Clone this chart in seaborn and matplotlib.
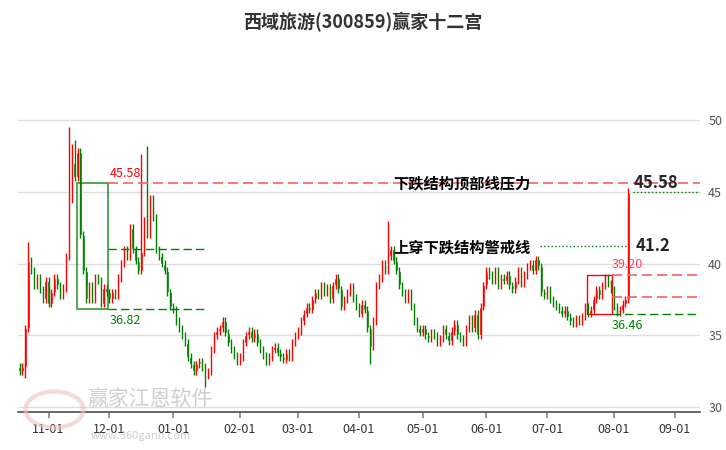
import pandas as pd
import numpy as np
import seaborn as sns
import matplotlib.pyplot as plt
from matplotlib.patches import Rectangle

sns.set_theme(style="white")
plt.rcParams['font.family'] = ['Noto Sans CJK SC', 'DejaVu Sans']

# 收盘价
closes = [32.5, 32.8, 35.5, 40.2, 39.5,
          38.5, 39, 38.2, 37.5, 38.8, 37.2, 38, 39, 38.5, 37.8, 38.3,
          40.5, 44.5, 47, 46, 47.8,
          42, 39.5, 37.5, 38.5, 37.5, 39, 38.8, 37.2,
          38.3, 38, 37.5, 38, 37.8,
          39, 40, 41, 40.5, 42.5, 41, 40.2,
          39.5, 40.8, 43, 42, 44.5, 43.2, 41, 40.5,
          40, 39.5, 38, 37, 36.8, 36, 35.5,
          35, 34.5, 33.5, 33, 32.5, 33, 33.2,
          32.8, 32.2, 32.5, 34, 35, 35.3,
          35.5, 36, 35.2, 34.5, 34, 33.6, 33.2,
          33.5, 34.5, 35, 35.3, 34.8, 35.2, 34.5,
          34, 33.6, 33.2, 33.5, 34, 34.2, 33.8, 33.5,
          33.3, 33.8, 33.5, 34.5, 35, 35.3, 36,
          36.5, 37, 36.8, 37.5, 38, 37.8, 38.5, 38,
          38.3, 37.5, 38.5, 39, 38.2, 37, 37.5,
          38, 38.4, 37.6, 37, 36.5, 37.2, 36.8,
          35.5, 34.2, 36, 38.5, 39, 40, 39.5,
          40.5, 41, 40.2, 39.5, 38.5, 38,
          37.5, 38, 37, 36, 35.5, 35.2, 35.5, 35,
          34.8, 35.2, 35, 34.5, 34.8, 35.5, 35, 34.6,
          35.3, 35.8, 35, 34.8, 34.5, 35.5, 36.2,
          35.5, 36.5, 35, 37, 38.5, 39.5, 39.2,
          38.8, 39.5, 38.5, 39, 38.8, 39.2, 38.5, 38.2,
          38.8, 39.5, 38.6, 39.2, 39.8, 40, 39.5, 40.3,
          39.8, 38, 37.8, 38.2, 37.5, 37.2,
          37, 36.8, 36.5, 36.8, 36.3, 36, 35.8, 36.2,
          36, 36.3, 37, 36.5, 36.8, 37.5, 38.2,
          37.8, 38.5, 39, 38.6, 38.2,
          37, 36.6, 36.8, 37.2, 37.5,
          45.0]
first_open = 32.8
# 明显的上下影线
spike_high = {17: 49.5, 19: 48.6, 18: 48.3, 44: 48.2, 42: 47.6, 127: 43.0, 3: 41.5, 211: 45.1}
spike_low = {121: 33.0, 64: 31.4, 2: 32.0}

top_level = 45.58
warn_level = 41.2
box1_low, box1_high = 36.82, 45.58
box2_low, box2_high = 36.46, 39.20
mid_level2 = 37.7
month_labels = ['11-01', '12-01', '01-01', '02-01', '03-01', '04-01',
                '05-01', '06-01', '07-01', '08-01', '09-01']

n = len(closes)
opens = [first_open] + closes[:-1]
dates = pd.bdate_range('2024-10-18', periods=n + 30)
df = pd.DataFrame({'open': opens, 'close': closes})
df['high'] = df[['open', 'close']].max(axis=1) + 0.25
df['low'] = df[['open', 'close']].min(axis=1) - 0.25
for k, v in spike_high.items():
    if k < n:
        df.loc[k, 'high'] = v
for k, v in spike_low.items():
    if k < n:
        df.loc[k, 'low'] = v
df['up'] = df['close'] >= df['open']
df['idx'] = np.arange(n)

fig = plt.figure(figsize=(7.26, 4.5), dpi=100)
ax = fig.add_axes([0.025, 0.084, 0.939, 0.694])
red, green = '#ff0000', '#008000'
colors = np.where(df['up'], red, green)
ax.vlines(df['idx'], df['low'], df['high'], colors=colors, lw=1)
ax.bar(df['idx'], (df['close'] - df['open']).abs().clip(lower=0.1),
       bottom=df[['open', 'close']].min(axis=1), width=0.85, color=colors)

def px(x):
    return (x - 18) / 2.9 - 0.5

# 左侧绿色框
ax.add_patch(Rectangle((px(77), box1_low), px(108) - px(77), box1_high - box1_low,
                       fill=False, ec=green, lw=1.2, alpha=0.8))
ax.hlines(top_level, px(108), px(726), colors='#ff6060', ls=(0, (6, 3)), lw=1.2)
ax.hlines(41.0, px(108), px(208), colors=green, ls=(0, (6, 3)), lw=1)
ax.hlines(box1_low, px(108), px(208), colors=green, ls=(0, (6, 3)), lw=1)
ax.text(px(110), 46.0, f'{box1_high:.2f}', color=red, fontsize=9)
ax.text(px(110), box1_low - 0.3, f'{box1_low:.2f}', color=green, fontsize=9, va='top')

# 右侧红色框
ax.add_patch(Rectangle((px(587), box2_low), px(612) - px(587), box2_high - box2_low,
                       fill=False, ec=red, lw=1))
ax.hlines(box2_high, px(612), px(712), colors='#ff6060', ls=(0, (6, 3)), lw=1.2)
ax.hlines(mid_level2, px(612), px(712), colors='#ff6060', ls=(0, (6, 3)), lw=1.2)
ax.hlines(box2_low, px(612), px(726), colors=green, ls=(0, (6, 3)), lw=1)
ax.text(px(612), box2_high + 0.3, f'{box2_high:.2f}', color='#ff4060', fontsize=9, va='bottom')
ax.text(px(612), box2_low - 0.3, f'{box2_low:.2f}', color=green, fontsize=9, va='top')

# 压力线与警戒线
ax.hlines(warn_level, px(540), px(628), colors=green, ls=':', lw=1)
ax.hlines(45.0, px(633), px(700), colors=green, ls=':', lw=1)
ax.text(px(393), top_level, '下跌结构顶部线压力', fontsize=11, fontweight='bold',
        color='black', va='center')
ax.text(px(393), warn_level - 0.1, '上穿下跌结构警戒线', fontsize=11, fontweight='bold',
        color='black', va='center')
ax.text(px(634), top_level, f'{top_level:.2f}', fontsize=12, fontweight='bold', va='center')
ax.text(px(636), warn_level, f'{warn_level}', fontsize=12, fontweight='bold', va='center')

# 坐标轴
ax.set_xlim(-0.5, px(700))
ax.set_ylim(29.65, 51.4)
ticks = []
for lab in month_labels:
    m = int(lab[:2])
    y = 2024 if m >= 10 else 2025
    ticks.append(int(np.searchsorted(dates, pd.Timestamp(y, m, 1))))
ax.set_xticks(ticks)
ax.set_xticklabels(month_labels, fontsize=9, color='#333333')
ax.tick_params(axis='x', length=4, color='#888888', bottom=True)
ax.yaxis.tick_right()
ax.set_yticks([30, 35, 40, 45, 50])
ax.tick_params(axis='y', length=0, pad=6, labelsize=9, labelcolor='#555555')
ax.grid(axis='y', color='#dddddd', lw=1)
for s in ['top', 'right', 'left']:
    ax.spines[s].set_visible(False)
ax.spines['bottom'].set_color('#555555')

fig.text(0.5, 0.95, '西域旅游(300859)赢家十二宫', ha='center', va='center',
         fontsize=13, fontweight='bold', color='#333333')
fig.text(0.12, 0.1, '赢家江恩软件', fontsize=15, color='#bbbbbb', alpha=0.7)
fig.text(0.125, 0.025, 'www.360gann.com', fontsize=8, color='#bbbbbb', alpha=0.7)
fig.patches.append(plt.Circle((0.075, 0.09), 0.04, transform=fig.transFigure,
                              fill=False, ec='#f0c0c0', lw=3, alpha=0.6))

fig.savefig('out.png', dpi=100)
